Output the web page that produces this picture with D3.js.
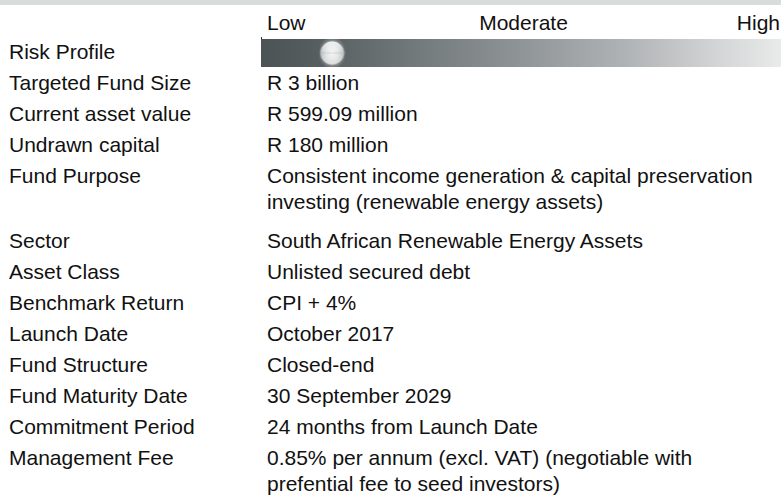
<!DOCTYPE html>
<html>
<head>
<meta charset="utf-8">
<script src="https://cdn.jsdelivr.net/npm/d3@7"></script>
<style>
  html, body { margin: 0; padding: 0; background: #fff; }
  svg { display: block; }
  text { font-family: "Liberation Sans", Arial, sans-serif; font-size: 21px; fill: #111; }
</style>
</head>
<body>
<script>
var width = 781;
var height = 498;

// risk scale header
var riskLevels = ['Low', 'Moderate', 'High'];
var riskScore = 0.137; // 0 = low, 1 = high

// fact sheet rows
var labels = [
  'Risk Profile',
  'Targeted Fund Size',
  'Current asset value',
  'Undrawn capital',
  'Fund Purpose',
  'Sector',
  'Asset Class',
  'Benchmark Return',
  'Launch Date',
  'Fund Structure',
  'Fund Maturity Date',
  'Commitment Period',
  'Management Fee'
];
var values = [
  [],
  ['R 3 billion'],
  ['R 599.09 million'],
  ['R 180 million'],
  ['Consistent income generation & capital preservation', 'investing (renewable energy assets)'],
  ['South African Renewable Energy Assets'],
  ['Unlisted secured debt'],
  ['CPI + 4%'],
  ['October 2017'],
  ['Closed-end'],
  ['30 September 2029'],
  ['24 months from Launch Date'],
  ['0.85% per annum (excl. VAT) (negotiable with', 'prefential fee to seed investors)']
];

var svg = d3.select('body').append('svg')
  .attr('width', width)
  .attr('height', height);

var defs = svg.append('defs');

var barGrad = defs.append('linearGradient')
  .attr('id', 'barGrad')
  .attr('x1', '0%').attr('x2', '100%').attr('y1', '0%').attr('y2', '0%');
[[0, '#4c5355'], [0.12, '#585f61'], [0.3, '#737a7c'], [0.5, '#8f9496'],
 [0.7, '#b0b3b5'], [0.88, '#d3d5d6'], [1, '#e9eaea']].forEach(function(s) {
  barGrad.append('stop').attr('offset', s[0]).attr('stop-color', s[1]);
});

var knobGrad = defs.append('radialGradient')
  .attr('id', 'knobGrad')
  .attr('cx', '50%').attr('cy', '50%').attr('r', '50%');
[[0, '#f4f5f5'], [0.5, '#e2e4e4'], [0.85, '#c4c7c8'], [1, '#a4a8aa']].forEach(function(s) {
  knobGrad.append('stop').attr('offset', s[0]).attr('stop-color', s[1]);
});

var shineGrad = defs.append('linearGradient')
  .attr('id', 'shineGrad')
  .attr('x1', '0%').attr('x2', '0%').attr('y1', '0%').attr('y2', '100%');
shineGrad.append('stop').attr('offset', 0).attr('stop-color', '#fff').attr('stop-opacity', 0.8);
shineGrad.append('stop').attr('offset', 0.5).attr('stop-color', '#fff').attr('stop-opacity', 0);
shineGrad.append('stop').attr('offset', 1).attr('stop-color', '#fff').attr('stop-opacity', 0.5);

var glowGrad = defs.append('radialGradient').attr('id', 'glowGrad');
glowGrad.append('stop').attr('offset', 0.65).attr('stop-color', '#fff').attr('stop-opacity', 0.3);
glowGrad.append('stop').attr('offset', 1).attr('stop-color', '#fff').attr('stop-opacity', 0);

// top band
svg.append('rect')
  .attr('x', 0).attr('y', 0)
  .attr('width', width).attr('height', 5)
  .attr('fill', '#d9dcdc');

var labelX = 9;
var valueX = 267;

// header labels over the bar
var headerX = d3.scalePoint()
  .domain(riskLevels)
  .range([valueX, 780]);

svg.selectAll('.risk-level')
  .data(riskLevels)
  .enter().append('text')
    .attr('class', 'risk-level')
    .attr('x', function(d) { return headerX(d); })
    .attr('y', 30)
    .attr('text-anchor', function(d, i) {
      return i === 0 ? 'start' : (i === riskLevels.length - 1 ? 'end' : 'middle');
    })
    .text(function(d) { return d; });

// rows: line index -> baseline; wrapped lines sit a bit closer
var lineY = d3.scaleLinear().domain([0, 1]).range([59, 90]);
var wrapY = d3.scaleLinear().domain([0, 1]).range([0, 26]);
var rows = [];
var line = 0;
var extra = 0;
labels.forEach(function(label, i) {
  rows.push({label: label, lines: values[i], line: line, extra: extra});
  var n = Math.max(1, values[i].length);
  if (n > 1) { extra += 3; }
  line += n;
});

function rowY(d, k) {
  return lineY(d.line) + d.extra + wrapY(k || 0);
}

// risk bar
var barX = d3.scaleLinear().domain([0, 1]).range([261, 781]);
var barTop = 39;
var barH = 28;

svg.append('rect')
  .attr('x', barX(0)).attr('y', barTop)
  .attr('width', barX(1) - barX(0)).attr('height', barH)
  .attr('fill', 'url(#barGrad)');

svg.append('line')
  .attr('x1', barX(0) + 0.5).attr('x2', barX(0) + 0.5)
  .attr('y1', barTop - 2).attr('y2', barTop)
  .attr('stroke', '#333');

var knobX = barX(riskScore);
var knobY = barTop + barH / 2;

svg.append('ellipse')
  .attr('cx', knobX).attr('cy', knobY)
  .attr('rx', 14).attr('ry', 17)
  .attr('fill', 'url(#glowGrad)');

svg.append('circle')
  .attr('cx', knobX).attr('cy', knobY)
  .attr('r', 12)
  .attr('fill', 'url(#knobGrad)')
  .attr('stroke', '#9fa3a5')
  .attr('stroke-width', 0.6);

svg.append('circle')
  .attr('cx', knobX).attr('cy', knobY)
  .attr('r', 11.4)
  .attr('fill', 'url(#shineGrad)');

svg.append('line')
  .attr('x1', knobX - 10).attr('x2', knobX + 10)
  .attr('y1', knobY).attr('y2', knobY)
  .attr('stroke', '#b9bcbd').attr('stroke-width', 0.8).attr('opacity', 0.6);

// labels
svg.selectAll('.label')
  .data(rows)
  .enter().append('text')
    .attr('class', 'label')
    .attr('x', labelX)
    .attr('y', function(d) { return rowY(d); })
    .text(function(d) { return d.label; });

// values, one text per line
var valueLines = [];
rows.forEach(function(d) {
  d.lines.forEach(function(t, k) {
    valueLines.push({text: t, y: rowY(d, k)});
  });
});

svg.selectAll('.value')
  .data(valueLines)
  .enter().append('text')
    .attr('class', 'value')
    .attr('x', valueX)
    .attr('y', function(d) { return d.y; })
    .text(function(d) { return d.text; });
</script>
</body>
</html>
